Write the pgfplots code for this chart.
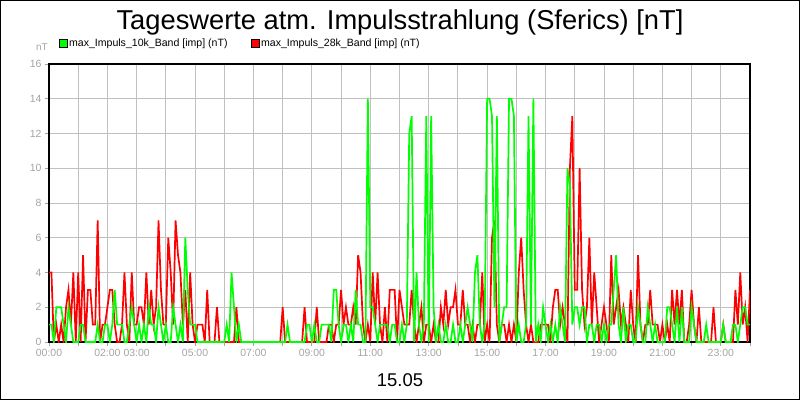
\documentclass[border=0pt]{standalone}
\usepackage{fontspec}
\setmainfont{Liberation Sans}
\usepackage{pgfplots}
\usepackage{pgfplotstable}
\pgfplotsset{compat=1.18}
\definecolor{lime}{HTML}{00FF00}
\definecolor{pureRed}{HTML}{FF0000}
\definecolor{gridgray}{HTML}{C0C0C0}
\definecolor{labgray}{HTML}{A4A4A4}

\pgfplotstableread{
t g r
0 1 4
5 1 4
10 0 0
15 2 1
20 2 0
25 2 1
30 1 0
35 0 2
40 2 3
45 1 1
50 0 4
55 0 0
60 0 4
65 1 0
70 1 5
75 0 0
80 0 3
85 0 3
90 0 1
95 0 1
100 1 7
105 0 0
110 0 1
115 1 1
120 1 2
125 0 3
130 1 3
135 3 1
140 1 0
145 1 0
150 1 1
155 0 4
160 0 1
165 1 0
170 2 4
175 1 1
180 0 1
185 1 2
190 0 2
195 1 1
200 0 4
205 2 1
210 1 3
215 1 1
220 0 2
225 2 7
230 1 3
235 0 1
240 1 1
245 0 6
250 0 4
255 2 1
260 1 7
265 0 5
270 1 4
275 0 1
280 6 3
285 3 0
290 1 4
295 1 1
300 1 0
305 0 1
310 0 1
315 0 1
320 0 0
325 0 3
330 0 0
335 0 0
340 0 0
345 0 2
350 0 0
355 0 0
360 0 0
365 1 0
370 0 0
375 4 0
380 2 0
385 0 2
390 1 0
395 0 0
400 0 0
405 0 0
410 0 0
415 0 0
420 0 0
425 0 0
430 0 0
435 0 0
440 0 0
445 0 0
450 0 0
455 0 0
460 0 0
465 0 0
470 0 0
475 0 0
480 0 2
485 0 0
490 1 0
495 0 0
500 0 0
505 0 0
510 0 0
515 0 0
520 0 0
525 0 2
530 1 0
535 1 0
540 0 0
545 1 0
550 0 2
555 0 0
560 1 0
565 1 0
570 1 0
575 1 1
580 0 1
585 3 0
590 3 1
595 1 1
600 0 3
605 1 1
610 1 2
615 0 1
620 1 1
625 0 2
630 3 1
635 1 5
640 1 4
645 0 1
650 0 0
655 14 1
660 2 0
665 2 4
670 1 1
675 0 4
680 1 1
685 1 0
690 1 2
695 1 0
700 0 3
705 1 3
710 1 3
715 0 0
720 0 3
725 1 2
730 0 1
735 1 1
740 12 1
745 13 3
750 0 1
755 4 0
760 1 1
765 0 2
770 1 0
775 13 1
780 0 1
785 13 0
790 2 1
795 0 0
800 1 0
805 0 2
810 0 1
815 1 3
820 0 1
825 0 2
830 1 2
835 0 3
840 0 1
845 1 1
850 0 3
855 1 1
860 2 1
865 1 0
870 0 1
875 4 0
880 5 1
885 1 1
890 0 4
895 1 0
900 14 1
905 14 0
910 13 6
915 2 7
920 13 1
925 0 0
930 1 1
935 2 1
940 2 0
945 14 1
950 14 0
955 13 1
960 0 0
965 1 4
970 0 6
975 0 3
980 1 1
985 13 0
990 1 1
995 14 0
1000 0 0
1005 1 0
1010 0 1
1015 2 1
1020 1 1
1025 0 1
1030 1 0
1035 0 2
1040 1 3
1045 0 3
1050 2 1
1055 1 2
1060 0 1
1065 10 0
1070 9 10
1075 1 13
1080 2 3
1085 2 3
1090 1 10
1095 2 3
1100 2 1
1105 0 2
1110 1 6
1115 1 1
1120 0 4
1125 1 2
1130 1 0
1135 0 1
1140 1 2
1145 0 1
1150 1 0
1155 1 5
1160 3 1
1165 5 2
1170 1 3
1175 0 1
1180 2 2
1185 0 1
1190 1 0
1195 1 3
1200 0 1
1205 0 0
1210 2 5
1215 1 1
1220 0 0
1225 0 1
1230 2 1
1235 1 3
1240 0 1
1245 1 1
1250 0 1
1255 0 0
1260 0 1
1265 0 0
1270 2 1
1275 2 0
1280 1 3
1285 0 1
1290 2 3
1295 0 1
1300 2 3
1305 0 0
1310 0 0
1315 0 1
1320 2 3
1325 1 1
1330 0 0
1335 0 2
1340 0 0
1345 0 0
1350 1 0
1355 0 0
1360 0 0
1365 0 2
1370 0 0
1375 0 0
1380 0 0
1385 1 1
1390 0 0
1395 0 0
1400 0 0
1405 1 0
1410 1 3
1415 0 1
1420 1 4
1425 2 1
1430 2 2
1435 1 0
1440 1 3
}\datatable

\begin{document}
\begin{tikzpicture}[x=1bp,y=1bp]
\path[use as bounding box] (0,0) rectangle (800,400);
\draw[line width=1.4bp] (0.7,0.7) rectangle (799.3,399.3);
\node[anchor=base, font=\fontsize{27.4}{30}\selectfont] at (400,371) {Tageswerte atm. Impulsstrahlung (Sferics) [nT]};
\node[anchor=base, font=\fontsize{18.5}{20}\selectfont] at (400,14) {15.05};
\node[anchor=base east, inner sep=0pt, text=labgray, font=\fontsize{10}{12}\selectfont] at (48,350) {nT};
\begin{axis}[
  at={(49bp,58bp)}, anchor=south west,
  scale only axis, width=701bp, height=278bp,
  xmin=0, xmax=1440, ymin=0, ymax=16,
  xtick={0,60,...,1440},
  xticklabels={00:00,,02:00,03:00,,05:00,,07:00,,09:00,,11:00,,13:00,,15:00,,17:00,,19:00,,21:00,,23:00,},
  ytick={0,2,...,16},
  grid=major,
  major grid style={gridgray, line width=0.9bp},
  axis line style={black, line width=1.5bp},
  tick style={labgray, line width=0.8bp},
  major tick length=4bp,
  tick align=outside,
  xtick pos=left, ytick pos=left,
  tick label style={font=\fontsize{10.5}{12}\selectfont, text=labgray},
  /pgf/number format/assume math mode=true,
  legend columns=2,
  legend style={at={(axis description cs:0,1.0755)}, anchor=west, xshift=10bp,
    draw=none, fill=none, inner sep=0pt, outer sep=0pt,
    font=\fontsize{10.6}{12}\selectfont,
    nodes={inner sep=1.5bp},
    /tikz/every even column/.append style={column sep=22bp}},
  legend cell align=left,
]
\addlegendimage{legend image code/.code={\filldraw[fill=lime, draw=black, line width=0.6bp] (0bp,-4bp) rectangle (8bp,4bp);}}
\addlegendentry{max\_Impuls\_10k\_Band [imp] (nT)}
\addlegendimage{legend image code/.code={\filldraw[fill=pureRed, draw=black, line width=0.6bp] (0bp,-4bp) rectangle (8bp,4bp);}}
\addlegendentry{max\_Impuls\_28k\_Band [imp] (nT)}
\addplot[pureRed, line width=1.7bp, forget plot] table[x=t, y=r] {\datatable};
\addplot[lime, line width=1.7bp, forget plot] table[x=t, y=g] {\datatable};
\end{axis}
\end{tikzpicture}
\end{document}
